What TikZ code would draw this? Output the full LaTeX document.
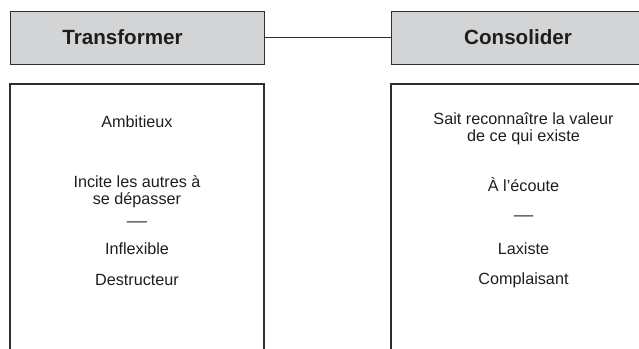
\documentclass[tikz,border=0pt]{standalone}
\usepackage{fontspec}
\setmainfont{Liberation Sans}
\definecolor{hdrfill}{HTML}{D3D4D6}
\definecolor{edge}{HTML}{2E2E2E}
\definecolor{ink}{HTML}{1E1E1E}
\begin{document}
\begin{tikzpicture}[x=1pt,y=-1pt,
  hdrbox/.style={draw=edge,fill=hdrfill,line width=1pt,minimum width=254pt,minimum height=53pt,inner sep=0pt},
  hdrtext/.style={text=ink,font=\fontsize{20.6}{24}\selectfont\bfseries,inner sep=0pt,anchor=base},
  bodytext/.style={text=ink,font=\fontsize{16.2}{17.4}\selectfont,inner sep=0pt,align=center},
  panel/.style={draw=edge,line width=1.1pt},
  link/.style={draw=edge,line width=0.9pt}]
\useasboundingbox (0,0) rectangle (639,348);
\clip (0,0) rectangle (639,348);
% headers
\node[hdrbox] (hl) at (137,37.5) {};
\node[hdrbox] (hr) at (518,37.5) {};
\node[hdrtext] (hlt) at (122.5,44.3) {Transformer};
\node[hdrtext] (hrt) at (518,44.3) {Consolider};
\draw[link] (hl.east) -- (hr.west);
% panels (open at the bottom, cut by the page)
\draw[panel] (10,360) -- (10,84) -- (264,84) -- (264,360);
\draw[panel] (391,360) -- (391,84) -- (645,84) -- (645,360);
% left texts
\node[bodytext,anchor=base] (l1) at (137,127.7) {Ambitieux};
\node[bodytext,anchor=center] (l2) at (137,191.5) {Incite les autres à\\se dépasser};
\node[bodytext,anchor=center] (l3) at (137,224) {\scalebox{1.25}[1]{—}};
\node[bodytext,anchor=base] (l4) at (137,254) {Inflexible};
\node[bodytext,anchor=base] (l5) at (137,285) {Destructeur};
% right texts
\node[bodytext,anchor=center] (r1) at (523.5,129) {Sait reconnaître la valeur\\de ce qui existe};
\node[bodytext,anchor=base] (r2) at (523.5,191) {À l’écoute};
\node[bodytext,anchor=center] (r3) at (523.5,218) {\scalebox{1.2}[1]{—}};
\node[bodytext,anchor=base] (r4) at (523.5,254) {Laxiste};
\node[bodytext,anchor=base] (r5) at (523.5,284) {Complaisant};
\end{tikzpicture}
\end{document}
